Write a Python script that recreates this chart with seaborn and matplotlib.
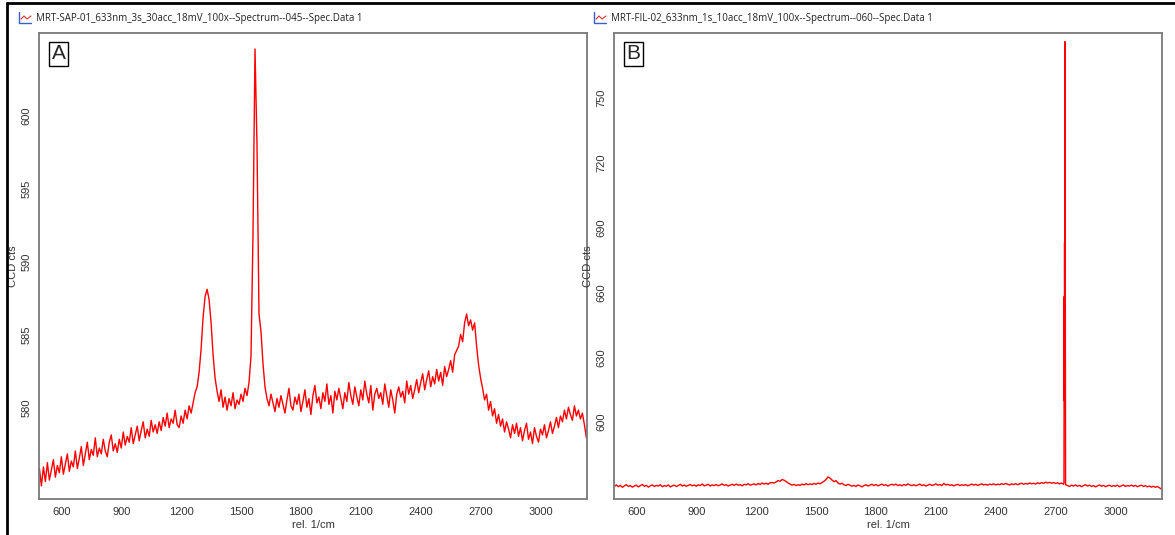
import numpy as np
import pandas as pd
import matplotlib
matplotlib.use("Agg")
import matplotlib.pyplot as plt
from matplotlib.lines import Line2D
import seaborn as sns

sns.set_style("white")
plt.rcParams['font.family'] = ['Liberation Sans', 'DejaVu Sans']

# wavenumber grid shared by both spectra (rel. 1/cm), 490..3230 every 10
wavenumber = np.arange(490, 3240, 10)

# spectrum A (MRT-SAP-01), CCD counts
counts_a = [
    575.8, 574.6, 575.9, 574.9, 576.2, 575.0, 575.7, 576.4, 575.2, 576.0,
    575.5, 576.6, 575.4, 576.1, 576.8, 575.6, 576.3, 575.9, 577.0, 575.8,
    576.5, 577.3, 576.0, 576.8, 577.6, 576.4, 577.1, 576.7, 577.9, 576.6,
    577.2, 576.8, 577.8, 577.0, 576.6, 577.6, 578.1, 577.0, 577.5, 576.9,
    577.8, 577.2, 578.3, 577.4, 578.0, 577.6, 578.6, 577.5, 578.1, 578.7,
    577.7, 578.4, 579.0, 577.9, 578.5, 578.0, 579.1, 578.3, 578.8, 578.2,
    579.0, 578.4, 579.3, 578.7, 579.6, 578.6, 579.2, 578.9, 579.8, 578.8,
    578.6, 579.4, 578.9, 579.8, 579.2, 580.1, 579.6, 580.3, 581.0, 581.4,
    582.4, 584.0, 586.2, 587.6, 588.1, 587.4, 585.8, 583.6, 582.0, 581.1,
    580.4, 581.2, 580.0, 580.7, 579.8, 580.6, 580.1, 581.0, 579.9, 580.5,
    580.2, 580.9, 580.4, 581.3, 580.8, 581.7, 583.5, 592.0, 604.6, 598.0,
    586.4, 585.2, 583.0, 581.4, 580.6, 580.1, 580.9, 580.3, 579.7, 580.6,
    580.0, 580.8, 580.2, 579.6, 580.5, 581.3, 580.1, 579.8, 580.7, 580.2,
    580.9, 579.7, 580.4, 581.2, 580.0, 580.6, 579.5, 580.8, 581.5, 580.3,
    580.7, 579.9, 581.0, 580.4, 581.6, 580.2, 580.8, 579.6, 581.1, 580.5,
    581.3, 580.6, 579.9, 581.0, 580.4, 581.7, 580.8, 580.2, 581.4, 580.7,
    580.1, 581.2, 580.5, 581.8, 580.9, 580.3, 581.5, 579.8, 580.9, 581.3,
    580.6, 581.0, 580.2, 581.6, 580.8, 580.0, 581.2, 580.5, 579.6, 580.9,
    581.4, 580.7, 581.1, 580.3, 581.8, 580.9, 581.5, 580.6, 581.2, 581.9,
    581.0, 581.7, 582.3, 581.2, 581.9, 582.5, 581.4, 582.1, 581.6, 582.6,
    581.8, 582.4, 581.5, 582.8, 582.1, 582.6, 583.2, 582.4, 583.6, 583.9,
    584.2, 585.0, 584.5, 585.8, 586.4, 585.6, 586.0, 585.3, 585.8, 584.2,
    582.9, 582.0, 581.3, 580.5, 580.9, 579.8, 580.4, 579.4, 579.9, 578.9,
    579.5, 578.7, 579.2, 578.3, 579.0, 578.5, 577.9, 578.8, 578.2, 578.9,
    578.0, 578.6, 577.7, 578.4, 578.9, 577.8, 578.3, 577.5, 578.6, 578.0,
    577.6, 578.5, 578.1, 578.8, 577.9, 578.4, 579.0, 578.2, 578.7, 579.3,
    578.6, 579.4, 579.0, 579.8, 579.2, 580.0, 579.5, 579.1, 580.1, 579.4,
    579.8, 579.2, 579.6, 578.8, 577.9,
]

# spectrum B (MRT-FIL-02) baseline on the same grid
counts_b = [
    570.3, 570.9, 570.1, 570.7, 569.8, 570.5, 571.0, 570.2, 570.6, 569.9,
    570.4, 570.8, 570.0, 570.6, 571.1, 570.3, 570.7, 569.9, 570.5, 570.9,
    570.2, 570.7, 570.4, 571.0, 570.1, 570.6, 570.3, 570.9, 570.0, 570.5,
    570.8, 570.2, 570.6, 571.2, 570.4, 570.9, 570.3, 570.7, 571.1, 570.5,
    570.9, 570.3, 571.0, 570.6, 571.3, 570.5, 570.8, 571.2, 570.4, 570.9,
    570.6, 571.1, 570.5, 570.9, 571.4, 570.7, 571.0, 570.4, 570.8, 571.2,
    570.7, 571.3, 570.8, 571.0, 570.5, 571.2, 570.9, 571.5, 570.8, 571.1,
    571.4, 570.9, 571.6, 571.1, 571.8, 571.3, 571.7, 571.2, 571.9, 572.0,
    571.8, 572.3, 572.9, 572.6, 573.4, 573.1, 572.5, 571.8, 571.3, 570.8,
    571.2, 570.6, 571.0, 570.7, 571.3, 570.9, 571.5, 571.0, 571.4, 571.1,
    571.6, 571.2, 571.8, 571.4, 572.0, 572.6, 573.4, 574.6, 574.1, 573.2,
    572.4, 572.9, 571.8, 571.3, 571.7, 571.0, 570.6, 571.2, 570.8, 570.3,
    570.7, 570.2, 570.9, 570.5, 570.0, 570.6, 571.0, 570.4, 570.8, 571.2,
    570.6, 571.1, 570.5, 570.9, 571.3, 570.7, 571.0, 570.4, 570.9, 571.2,
    570.8, 571.3, 570.6, 571.0, 570.5, 571.1, 570.7, 571.4, 570.9, 570.6,
    571.0, 570.5, 570.9, 571.3, 570.6, 571.0, 570.4, 570.8, 571.2, 570.7,
    570.9, 571.4, 570.8, 571.1, 570.6, 571.6, 570.9, 571.2, 570.7, 571.0,
    570.5, 570.9, 571.2, 570.6, 571.0, 570.7, 571.1, 570.5, 570.9, 571.3,
    570.8, 571.2, 570.7, 571.0, 571.4, 570.9, 571.2, 570.8, 571.3, 571.0,
    571.4, 570.9, 571.3, 571.0, 571.5, 571.1, 571.6, 571.2, 570.9, 571.4,
    571.1, 571.5, 571.0, 571.4, 571.7, 571.2, 571.6, 571.3, 571.8, 571.4,
    571.7, 571.3, 571.9, 571.5, 572.0, 571.6, 572.2, 571.8, 572.1, 571.7,
    572.0, 571.6, 571.9, 571.4, 571.8, 571.2, 571.0, 570.6, 570.2, 570.8,
    570.4, 570.9, 570.3, 570.7, 570.1, 570.6, 571.0, 570.4, 570.8, 570.2,
    570.6, 570.0, 570.5, 570.9, 570.3, 570.7, 570.1, 570.5, 570.8, 570.2,
    570.6, 570.3, 570.8, 570.1, 570.5, 570.9, 570.2, 570.6, 570.4, 570.8,
    570.3, 570.7, 570.1, 570.5, 570.8, 570.2, 570.6, 570.0, 570.4, 569.9,
    570.3, 569.8, 570.2, 569.6, 569.0,
]

# narrow band in B near 2745 1/cm, sampled finer than the grid
spike_x = [2742, 2743, 2744, 2745, 2746, 2747, 2748, 2749]
spike_y = [572.0, 658.0, 610.0, 683.0, 636.0, 776.0, 700.0, 600.0]

titles = [
    "MRT-SAP-01_633nm_3s_30acc_18mV_100x--Spectrum--045--Spec.Data 1",
    "MRT-FIL-02_633nm_1s_10acc_18mV_100x--Spectrum--060--Spec.Data 1",
]
panel_letters = ["A", "B"]
x_ticks = [600, 900, 1200, 1500, 1800, 2100, 2400, 2700, 3000]
y_ticks_a = [580, 585, 590, 595, 600]
y_ticks_b = [600, 630, 660, 690, 720, 750]

df_a = pd.DataFrame({"wn": wavenumber, "cts": counts_a})
df_b = pd.concat([pd.DataFrame({"wn": wavenumber, "cts": counts_b}),
                  pd.DataFrame({"wn": spike_x, "cts": spike_y})])
df_b = df_b.sort_values("wn")

W, H = 1175, 535
fig = plt.figure(figsize=(W / 100, H / 100), dpi=100)
ax_a = fig.add_axes([39 / W, 1 - 499 / H, 548 / W, 466 / H])
ax_b = fig.add_axes([614 / W, 1 - 499 / H, 548 / W, 466 / H])

setups = [
    (ax_a, df_a, y_ticks_a, (573.7, 605.7)),
    (ax_b, df_b, y_ticks_b, (564.4, 780)),
]
for i, (ax, df, yt, ylim) in enumerate(setups):
    sns.lineplot(data=df, x="wn", y="cts", ax=ax, color="#ff0000",
                 linewidth=1.0, estimator=None, sort=False)
    ax.set_xlim(488, 3233)
    ax.set_ylim(*ylim)
    ax.set_xticks(x_ticks)
    ax.set_yticks(yt)
    ax.tick_params(axis="both", direction="inout", length=7, width=1,
                   color="#555555", labelsize=8, labelcolor="#333333", pad=2)
    for lab in ax.get_yticklabels():
        lab.set_rotation(90)
        lab.set_va("center")
    for sp in ax.spines.values():
        sp.set_color("#7a7a7a")
        sp.set_linewidth(1.3)
    ax.set_xlabel("rel. 1/cm", fontsize=8, color="#333333")
    ax.set_ylabel("CCD cts", fontsize=8, color="#333333")
    ax.xaxis.set_label_coords(0.5, -0.045)
    ax.yaxis.set_label_coords(-0.038, 0.5)
    ax.text(0.036, 0.955, panel_letters[i], transform=ax.transAxes,
            fontsize=15, ha="center", va="center",
            bbox=dict(boxstyle="square,pad=0.12", fc="white", ec="black", lw=1))

    # window caption with small chart icon
    x0 = 19 if i == 0 else 594
    fig.text((x0 + 17) / W, 1 - 18 / H, titles[i], fontsize=7, va="center",
             ha="left", color="#222222",
             family=["Open Sans", "DejaVu Sans"])
    fig.add_artist(Line2D([x0 / W, x0 / W, (x0 + 12) / W],
                          [1 - 12 / H, 1 - 23 / H, 1 - 23 / H],
                          color="#3a5fcd", lw=1))
    fig.add_artist(Line2D([(x0 + 2) / W, (x0 + 5) / W, (x0 + 8) / W, (x0 + 12) / W],
                          [1 - 19 / H, 1 - 16 / H, 1 - 19 / H, 1 - 16 / H],
                          color="#e03030", lw=0.8))

# screenshot frame
fig.add_artist(Line2D([7 / W, 7 / W], [0, 1 - 3 / H], color="black", lw=2))
fig.add_artist(Line2D([7 / W, 1], [1 - 3 / H, 1 - 3 / H], color="black", lw=2))

fig.savefig("out.png", dpi=100)
